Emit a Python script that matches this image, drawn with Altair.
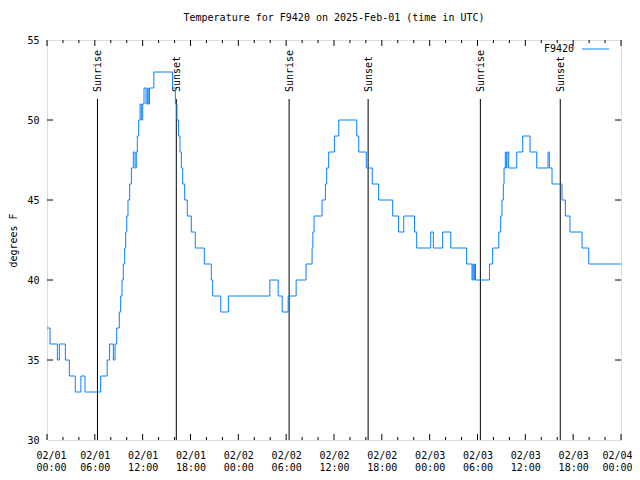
import altair as alt
import pandas as pd

# Temperature change points (hours since 2025-02-01 00:00 UTC, degrees F)
hours = [0.0, 0.38, 1.3, 1.55, 2.3, 2.8, 3.55, 4.25, 4.77, 6.73, 7.55, 7.85, 8.32, 8.53,
         8.74, 9.07, 9.24, 9.41, 9.57, 9.74, 9.87, 10.0, 10.16, 10.37, 10.58, 10.83, 11.05,
         11.2, 11.33, 11.5, 11.67, 11.83, 12.0, 12.17, 12.42, 12.58, 12.7, 12.85, 13.4,
         15.75, 16.1, 16.3, 16.5, 16.68, 16.85, 17.02, 17.27, 17.6, 18.1, 18.6, 19.73,
         20.61, 20.78, 21.79, 22.75, 27.95, 29.0, 29.5, 30.25, 31.25, 32.49, 33.25, 33.35,
         33.5, 34.5, 34.92, 35.08, 35.33, 36.05, 36.59, 38.85, 39.1, 40.05, 40.8, 41.6,
         43.36, 44.1, 44.75, 46.1, 46.37, 48.13, 48.46, 49.63, 50.64, 52.64, 53.31, 53.42,
         53.55, 53.65, 53.75, 55.5, 55.9, 56.66, 56.91, 57.07, 57.24, 57.33, 57.49, 57.6,
         57.7, 57.91, 58.92, 59.67, 60.59, 61.43, 62.85, 63.01, 63.35, 64.6, 65.02, 65.6,
         67.11, 67.95, 72.0]
temps = [37, 36, 35, 36, 35, 34, 33, 34, 33, 34, 35, 36, 35, 36,
         37, 38, 39, 40, 41, 42, 43, 44, 45, 46, 47, 48, 47,
         48, 49, 50, 51, 50, 51, 52, 51, 52, 51, 52, 53,
         52, 51, 50, 49, 48, 47, 46, 45, 44, 43, 42, 41,
         40, 39, 38, 39, 40, 39, 38, 39, 40, 41, 42, 43,
         44, 45, 46, 47, 48, 49, 50, 49, 48, 47, 46, 45,
         44, 43, 44, 43, 42, 43, 42, 43, 42, 41, 40, 41,
         40, 41, 40, 41, 42, 43, 44, 45, 46, 47, 48, 47,
         48, 47, 48, 49, 48, 47, 48, 47, 46, 45, 44, 43,
         42, 41, 41]

sun_hours = [6.33, 16.22, 30.37, 40.28, 54.36, 64.38]
sun_labels = ["Sunrise", "Sunset", "Sunrise", "Sunset", "Sunrise", "Sunset"]

tick_days = ["02/01", "02/01", "02/01", "02/01", "02/02", "02/02", "02/02",
             "02/02", "02/03", "02/03", "02/03", "02/03", "02/04"]
tick_times = ["00:00", "06:00", "12:00", "18:00", "00:00", "06:00", "12:00",
              "18:00", "00:00", "06:00", "12:00", "18:00", "00:00"]
major_x = [0, 6, 12, 18, 24, 30, 36, 42, 48, 54, 60, 66, 72]
minor_x = [2, 4, 8, 10, 14, 16, 20, 22, 26, 28, 32, 34, 38, 40, 44, 46, 50, 52, 56, 58, 62, 64, 68, 70]
y_ticks = [30, 35, 40, 45, 50, 55]
y_inner = [35, 40, 45, 50]

FONT = "DejaVu Sans Mono"
BLUE = "#0a80ff"
W, H = 574, 400

df = pd.DataFrame({"hour": hours, "temp": temps})
sun = pd.DataFrame({"hour": sun_hours, "label": sun_labels})
majors = pd.DataFrame({"hour": major_x})
minors = pd.DataFrame({"hour": minor_x})
yt = pd.DataFrame({"temp": y_inner})

label_expr = "[" + ",".join(f"['{d}','{t}']" for d, t in zip(tick_days, tick_times)) + "][round(datum.value/6)]"

xs = alt.Scale(domain=[0, 72], nice=False, zero=False)
ys = alt.Scale(domain=[30, 55], nice=False, zero=False)

xaxis = alt.Axis(values=major_x, labelExpr=label_expr, ticks=False, domain=False, grid=False,
                 labelPadding=10, labelFont=FONT, labelFontSize=10, labelColor="black",
                 labelLineHeight=12, labelAngle=0, title=None, labelFlush=True,
                 labelFlushOffset=11, labelOverlap=False)
yaxis = alt.Axis(values=y_ticks, ticks=False, domain=False, grid=False, labelPadding=8,
                 labelFont=FONT, labelFontSize=10, labelColor="black", title="degrees F",
                 titleFont=FONT, titleFontSize=10, titleFontWeight="normal", titleColor="black",
                 titlePadding=8)

line = alt.Chart(df).mark_line(interpolate="step-after", color=BLUE, strokeWidth=1).encode(
    x=alt.X("hour:Q", scale=xs, axis=xaxis),
    y=alt.Y("temp:Q", scale=ys, axis=yaxis),
)

sun_rules = alt.Chart(sun).mark_rule(color="black", strokeWidth=1).encode(
    x=alt.X("hour:Q", scale=xs), y=alt.value(59), y2=alt.value(H))
sun_text = alt.Chart(sun).mark_text(angle=270, align="left", baseline="middle", font=FONT,
                                    fontSize=10, color="black", dy=1).encode(
    x=alt.X("hour:Q", scale=xs), y=alt.value(52), text="label:N")

maj_b = alt.Chart(majors).mark_rule(color="black").encode(
    x=alt.X("hour:Q", scale=xs), y=alt.value(H), y2=alt.value(H - 6))
maj_t = alt.Chart(majors).mark_rule(color="black").encode(
    x=alt.X("hour:Q", scale=xs), y=alt.value(0), y2=alt.value(6))
min_b = alt.Chart(minors).mark_rule(color="black").encode(
    x=alt.X("hour:Q", scale=xs), y=alt.value(H), y2=alt.value(H - 3))
min_t = alt.Chart(minors).mark_rule(color="black").encode(
    x=alt.X("hour:Q", scale=xs), y=alt.value(0), y2=alt.value(3))
y_l = alt.Chart(yt).mark_rule(color="black").encode(
    y=alt.Y("temp:Q", scale=ys), x=alt.value(0), x2=alt.value(6))
y_r = alt.Chart(yt).mark_rule(color="black").encode(
    y=alt.Y("temp:Q", scale=ys), x=alt.value(W), x2=alt.value(W - 6))

leg_text = alt.Chart(pd.DataFrame({"name": ["F9420"]})).mark_text(
    align="right", baseline="middle", font=FONT, fontSize=10, color="black").encode(
    x=alt.value(527), y=alt.value(9), text="name:N")
leg_line = alt.Chart(pd.DataFrame({"name": ["F9420"]})).mark_rule(color=BLUE, strokeWidth=1).encode(
    x=alt.value(535), x2=alt.value(562), y=alt.value(9))

chart = alt.layer(sun_rules, sun_text, maj_b, maj_t, min_b, min_t, y_l, y_r, line, leg_text, leg_line).properties(
    width=W, height=H,
    title=alt.TitleParams("Temperature for F9420 on 2025-Feb-01 (time in UTC)", font=FONT, fontSize=10,
                          fontWeight="normal", color="black", anchor="middle", offset=12),
    autosize=alt.AutoSizeParams(type="none"),
    padding={"left": 39, "top": 32, "right": 11, "bottom": 32},
).configure_view(stroke="black", strokeWidth=1).configure(background="white")

chart.save("out.html", embed_options={"renderer": "svg", "actions": False})
